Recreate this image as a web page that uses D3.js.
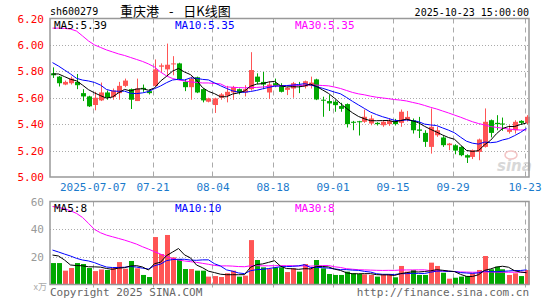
<!DOCTYPE html>
<html>
<head>
<meta charset="utf-8">
<script src="https://cdn.jsdelivr.net/npm/d3@7"></script>
<style>
  body { margin: 0; background: #fff; }
  text { font-family: "DejaVu Sans Mono", monospace; font-size: 10px; }
</style>
</head>
<body>
<div id="chart"></div>
<script>
// ---- data ----
const tickIdx = [7, 17, 27, 37, 47, 57, 67, 79];
const tickLabels = ["2025-07-07", "07-21", "08-04", "08-18", "09-01", "09-15", "09-29", "10-23"];
const priceTicks = [5.0, 5.2, 5.4, 5.6, 5.8, 6.0, 6.2];
const volTicks = [20, 40, 60];

const open = [5.785,5.76,5.70,5.71,5.72,5.635,5.61,5.545,5.58,5.64,
  5.605,5.635,5.69,5.665,5.575,5.675,5.65,5.69,5.835,5.815,
  5.855,5.86,5.72,5.68,5.755,5.665,5.57,5.545,5.60,5.615,
  5.64,5.665,5.64,5.665,5.76,5.72,5.64,5.71,5.69,5.66,
  5.67,5.695,5.685,5.69,5.739,5.585,5.575,5.57,5.537,5.552,
  5.418,5.422,5.418,5.405,5.41,5.392,5.40,5.425,5.41,5.43,
  5.43,5.36,5.334,5.228,5.316,5.299,5.241,5.24,5.228,5.165,
  5.152,5.19,5.228,5.43,5.41,5.405,5.342,5.354,5.425,5.41];
const high = [5.83,5.765,5.73,5.76,5.78,5.665,5.615,5.645,5.715,5.655,
  5.67,5.72,5.745,5.67,5.745,5.70,5.66,5.89,5.86,6.01,
  5.915,5.865,5.74,5.76,5.76,5.67,5.60,5.60,5.635,5.69,
  5.69,5.67,5.695,5.945,5.785,5.795,5.725,5.745,5.71,5.68,
  5.72,5.72,5.73,5.76,5.744,5.608,5.62,5.582,5.562,5.557,
  5.425,5.425,5.511,5.468,5.415,5.43,5.443,5.44,5.511,5.50,
  5.443,5.455,5.354,5.519,5.38,5.309,5.258,5.248,5.233,5.172,
  5.208,5.291,5.519,5.435,5.468,5.45,5.392,5.43,5.43,5.468];
const low = [5.75,5.685,5.695,5.70,5.665,5.575,5.53,5.505,5.575,5.585,
  5.585,5.585,5.68,5.515,5.575,5.645,5.625,5.685,5.79,5.77,
  5.77,5.735,5.65,5.585,5.635,5.565,5.565,5.485,5.585,5.565,
  5.585,5.625,5.61,5.655,5.705,5.665,5.59,5.68,5.64,5.62,
  5.60,5.635,5.67,5.67,5.582,5.456,5.50,5.494,5.494,5.375,
  5.354,5.314,5.41,5.392,5.39,5.38,5.387,5.39,5.38,5.42,
  5.329,5.295,5.228,5.177,5.304,5.228,5.203,5.172,5.157,5.106,
  5.136,5.127,5.223,5.30,5.354,5.35,5.329,5.329,5.40,5.40];
const close = [5.77,5.71,5.72,5.745,5.695,5.61,5.535,5.60,5.64,5.60,
  5.655,5.69,5.73,5.585,5.67,5.665,5.635,5.815,5.845,5.85,
  5.86,5.74,5.68,5.745,5.64,5.58,5.595,5.595,5.625,5.645,
  5.68,5.64,5.665,5.81,5.72,5.70,5.70,5.69,5.645,5.675,
  5.71,5.69,5.725,5.715,5.587,5.58,5.557,5.544,5.516,5.40,
  5.413,5.418,5.456,5.443,5.40,5.418,5.425,5.40,5.494,5.455,
  5.354,5.35,5.266,5.38,5.354,5.241,5.253,5.20,5.165,5.147,
  5.203,5.284,5.418,5.334,5.40,5.40,5.359,5.418,5.41,5.456];
const volume = [15.5,15.5,10,11.9,15.5,14.8,11.9,9.7,10.9,10.5,
  11.9,16.2,11.4,17,11.7,6.9,5.4,34.3,22,35.8,
  19.6,18.4,11.2,11.2,10,10,5.7,6.1,5.4,8.1,
  10,5.7,6.4,32.1,17.7,12.4,11.4,12.4,12.4,9,
  11.7,9.3,14.8,11.7,17.7,11.7,7.6,6.9,6.9,9.3,
  8.1,7.6,7.3,6.9,5.7,7.3,7.6,5.2,13.4,9.3,
  10.5,6.9,6.9,15.8,13.4,8.5,4.2,4.9,5.7,6.1,
  8.1,10.5,20.6,11,12.9,11,6.9,8.1,6.1,10.5];

// moving-average values at the left edge, where the window reaches before the chart
const ma5Head = [5.78, 5.78, 5.76, 5.74];
const ma10Head = [5.866, 5.84, 5.81, 5.78, 5.747, 5.734, 5.727, 5.716, 5.696];
const ma30Head = [6.127,6.127,6.125,6.12,6.105,6.068,6.03,6.00,5.981,5.962,
  5.947,5.932,5.92,5.905,5.89,5.875,5.856,5.833,5.795,5.765,
  5.746,5.735,5.727,5.72,5.716,5.712,5.712,5.708,5.705];
const volMa5Head = [21.3, 20.6, 17.7, 14.1];
const volMa10Head = [24.9, 23.5, 22, 20.6, 18.9, 17.7, 17, 15.8, 14.1];
const volMa30Head = [56.4,55.7,54.8,53.3,51.4,48.5,44.2,39.8,37.4,35.7,
  34.5,33.3,32.1,30.7,29.2,27.3,25.6,23.7,22,20.1,
  18.7,17.7,17,16.5,16,15.3,14.6,13.8,13.4];

const priceLegend = [["MA5:5.39", "#000"], ["MA10:5.35", "#0000ff"], ["MA30:5.35", "#ff00ff"]];
const volLegend = [["MA5:8", "#000"], ["MA10:10", "#0000ff"], ["MA30:8", "#ff00ff"]];

// ---- helpers ----
function rolling(vals, n, head) {
  return vals.map((v, i) => i < n - 1 ? head[i] : d3.mean(vals.slice(i - n + 1, i + 1)));
}

const W = 545, H = 300;
const left = 50, right = 529;
const pTop = 18.5, pBottom = 177;
const vTop = 201.5, vBottom = 284.5;
const red = "#ff5555", green = "#00a800";

const svg = d3.select("#chart").append("svg")
  .attr("width", W).attr("height", H);

const n = close.length;
const x = d3.scaleLinear().domain([0, n - 1]).range([52.5, 526.5]);
const xg = d3.scaleLinear().domain([0, n - 1]).range([50.5, 524.5]);
const y = d3.scaleLinear().domain([5.0, 6.2]).range([pBottom, pTop]);
const yv = d3.scaleLinear().domain([0, 60]).range([vBottom, vTop]);

// header texts
svg.append("text").attr("x", 50).attr("y", 15).text("sh600279");
svg.append("text").attr("x", 120).attr("y", 16)
  .style("font-family", "'Noto Sans CJK SC', sans-serif").style("font-size", "13px")
  .style("word-spacing", "7px")
  .text("重庆港 - 日K线图");
svg.append("text").attr("x", right).attr("y", 16).attr("text-anchor", "end")
  .text("2025-10-23 15:00:00");

// horizontal dotted grid
svg.append("g").selectAll("line")
  .data(priceTicks.filter(d => d > 5.0 && d < 6.2))
  .join("line")
    .attr("x1", left).attr("x2", right)
    .attr("y1", d => Math.round(y(d)) + 0.5).attr("y2", d => Math.round(y(d)) + 0.5)
    .attr("stroke", "#aaa").attr("stroke-dasharray", "1,2");
svg.append("g").selectAll("line")
  .data(volTicks.filter(d => d < 60))
  .join("line")
    .attr("x1", left).attr("x2", right)
    .attr("y1", d => Math.round(yv(d)) + 0.5).attr("y2", d => Math.round(yv(d)) + 0.5)
    .attr("stroke", "#aaa").attr("stroke-dasharray", "1,2");

// vertical dashed grid in both panels
[[pTop, pBottom], [vTop, vBottom + 4]].forEach(([t, b]) => {
  svg.append("g").selectAll("line")
    .data(tickIdx)
    .join("line")
      .attr("x1", d => Math.round(xg(d)) + 0.5).attr("x2", d => Math.round(xg(d)) + 0.5)
      .attr("y1", t).attr("y2", b)
      .attr("stroke", "#aaa").attr("stroke-dasharray", "5,4");
});

// sina watermark
svg.append("text").attr("x", 497).attr("y", 171)
  .style("font-family", "'DejaVu Sans', sans-serif").style("font-size", "15px")
  .style("font-weight", "bold").style("font-style", "italic")
  .attr("fill", "#d8d8d8").text("sina");
svg.append("ellipse").attr("cx", 511).attr("cy", 155).attr("rx", 6).attr("ry", 4)
  .attr("fill", "none").attr("stroke", "#f3c4c4").attr("stroke-width", 1.5);

// candles
const candles = svg.append("g").selectAll("g")
  .data(d3.range(n))
  .join("g")
    .attr("fill", i => close[i] >= open[i] ? red : green)
    .attr("stroke", i => close[i] >= open[i] ? red : green);
candles.append("line")
  .attr("x1", i => Math.round(x(i)) + 0.5).attr("x2", i => Math.round(x(i)) + 0.5)
  .attr("y1", i => y(high[i])).attr("y2", i => y(low[i]));
candles.append("rect")
  .attr("x", i => Math.round(x(i)) - 2)
  .attr("width", 5)
  .attr("y", i => y(Math.max(open[i], close[i])))
  .attr("height", i => Math.max(1, Math.abs(y(open[i]) - y(close[i]))))
  .attr("stroke", "none");

// volume bars
svg.append("g").selectAll("rect")
  .data(d3.range(n))
  .join("rect")
    .attr("x", i => Math.round(x(i)) - 2)
    .attr("width", 5)
    .attr("y", i => yv(volume[i]))
    .attr("height", i => vBottom - yv(volume[i]))
    .attr("fill", i => close[i] >= open[i] ? red : green);

// moving averages
const lineP = d3.line().x((d, i) => x(i)).y(d => y(d));
const lineV = d3.line().x((d, i) => x(i)).y(d => yv(d));
[[rolling(close, 30, ma30Head), "#ff00ff"], [rolling(close, 10, ma10Head), "#0000ff"],
 [rolling(close, 5, ma5Head), "#000"]].forEach(([s, c]) => {
  svg.append("path").datum(s).attr("d", lineP)
    .attr("fill", "none").attr("stroke", c).attr("stroke-width", 1);
});
[[rolling(volume, 30, volMa30Head), "#ff00ff"], [rolling(volume, 10, volMa10Head), "#0000ff"],
 [rolling(volume, 5, volMa5Head), "#000"]].forEach(([s, c]) => {
  svg.append("path").datum(s).attr("d", lineV)
    .attr("fill", "none").attr("stroke", c).attr("stroke-width", 1);
});

// frames
svg.append("rect").attr("x", left).attr("y", pTop).attr("width", right - left).attr("height", pBottom - pTop)
  .attr("fill", "none").attr("stroke", "#999").attr("stroke-width", 1.5);
svg.append("rect").attr("x", left).attr("y", vTop).attr("width", right - left).attr("height", vBottom - vTop)
  .attr("fill", "none").attr("stroke", "#999").attr("stroke-width", 1.5);

// price axis
const yAxis = svg.append("g").attr("transform", `translate(${left - 3},0)`)
  .call(d3.axisLeft(y).tickValues(priceTicks).tickFormat(d3.format(".2f")).tickSize(0));
yAxis.select(".domain").remove();
yAxis.selectAll("text").attr("fill", "#f00")
  .style("font-family", "'DejaVu Sans Mono', monospace").style("font-size", "11px");

// volume axis
const vAxis = svg.append("g").attr("transform", `translate(${left - 3},0)`)
  .call(d3.axisLeft(yv).tickValues(volTicks).tickSize(0));
vAxis.select(".domain").remove();
vAxis.selectAll("text").attr("fill", "#999")
  .style("font-family", "'DejaVu Sans Mono', monospace").style("font-size", "11px");
svg.append("text").attr("x", left - 3).attr("y", vBottom + 5).attr("text-anchor", "end")
  .attr("fill", "#aaa").style("font-family", "'Noto Sans CJK SC', sans-serif").style("font-size", "9px")
  .text("x万");

// date axis
const xAxis = svg.append("g").attr("transform", `translate(0,${pBottom + 3})`)
  .call(d3.axisBottom(xg).tickValues(tickIdx)
    .tickFormat(d => tickLabels[tickIdx.indexOf(d)]).tickSize(0));
xAxis.select(".domain").remove();
xAxis.selectAll("text").attr("fill", "#1a7acc")
  .style("font-family", "'DejaVu Sans Mono', monospace").style("font-size", "11px");

// legends
const legendX = [54, 175, 295];
priceLegend.forEach(([t, c], k) => {
  svg.append("text").attr("x", legendX[k]).attr("y", pTop + 10).attr("fill", c)
    .style("font-size", "11px").text(t);
});
volLegend.forEach(([t, c], k) => {
  svg.append("text").attr("x", legendX[k]).attr("y", vTop + 10).attr("fill", c)
    .style("font-size", "11px").text(t);
});

// footer
svg.append("text").attr("x", 50).attr("y", 296).attr("fill", "#666")
  .style("font-size", "11px").text("Copyright 2025 SINA.COM");
svg.append("text").attr("x", right).attr("y", 296).attr("text-anchor", "end").attr("fill", "#666")
  .style("font-size", "11px").text("http://finance.sina.com.cn");
</script>
</body>
</html>
